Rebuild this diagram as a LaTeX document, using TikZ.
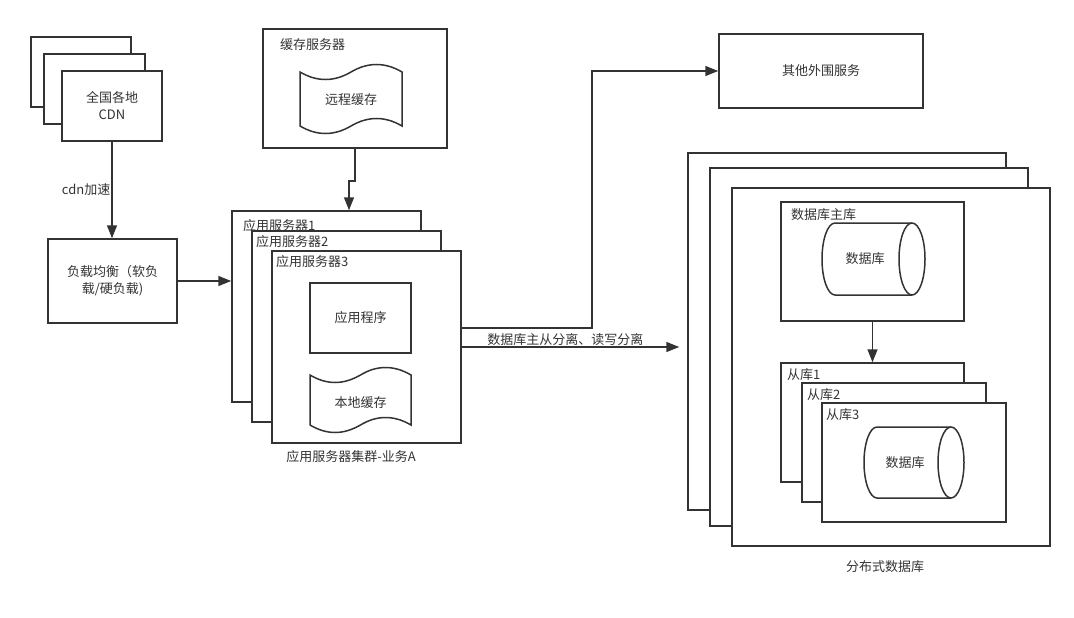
\documentclass[tikz,border=0pt]{standalone}
\usepackage{fontspec}
\setmainfont{Noto Sans CJK SC}
\usetikzlibrary{arrows.meta}
\definecolor{ink}{HTML}{333333}

\begin{document}
\begin{tikzpicture}[x=1pt, y=-1pt, font=\fontsize{13}{17}\selectfont, text=ink,
        ln/.style={draw=ink, line width=1.5pt},
        box/.style={ln, fill=white, inner sep=0pt},
        title/.style={anchor=west, inner sep=0pt},
        arr/.style={ln, -{Triangle[length=13pt, width=10pt]}}]
            \useasboundingbox (0,0) rectangle (1074,618);

            \node[box, minimum width=100, minimum height=70] (cdn1) at (81,72) {};
            \node[box, minimum width=101, minimum height=70] (cdn2) at (94.5,89) {};
            \node[box, minimum width=100, minimum height=70, align=center] (cdn3) at (112,106) {全国各地\\CDN};
            \node[box, minimum width=129, minimum height=84, align=center] (lb) at (112.5,281) {负载均衡（软负\\载/硬负载)};

            \node[box, minimum width=184, minimum height=119] (cache) at (355,88.5) {};
            \node[title] (cachet) at (280,45) {缓存服务器};
            \filldraw[ln, fill=white] (300,72) .. controls (317,82) and (334,82) .. (351,72)
                .. controls (368,62) and (385,62) .. (402,72) -- (402,126)
                .. controls (385,116) and (368,116) .. (351,126)
                .. controls (334,136) and (317,136) .. (300,126) -- cycle;
            \node (rcache) at (351,100) {远程缓存};

            \node[box, minimum width=189, minimum height=191] (app1) at (326.5,306.5) {};
            \node[title] (app1t) at (243,226) {应用服务器1};
            \node[box, minimum width=189, minimum height=191] (app2) at (346.5,326.5) {};
            \node[title] (app2t) at (256,242) {应用服务器2};
            \node[box, minimum width=189, minimum height=192] (app3) at (366.5,347) {};
            \node[title] (app3t) at (276,262) {应用服务器3};
            \node[box, minimum width=101, minimum height=70] (prog) at (360.5,318) {应用程序};
            \filldraw[ln, fill=white] (310,375) .. controls (327,385) and (343,385) .. (360.5,375)
                .. controls (377,365) and (394,365) .. (411,375) -- (411,425)
                .. controls (394,415) and (377,415) .. (360.5,425)
                .. controls (343,435) and (327,435) .. (310,425) -- cycle;
            \node (lcache) at (360.5,403) {本地缓存};
            \node (cluster) at (351,457) {应用服务器集群-业务A};

            \node[box, minimum width=204, minimum height=74] (other) at (821,71) {其他外围服务};

            \node[box, minimum width=318, minimum height=357] (db1) at (847,331.5) {};
            \node[box, minimum width=318, minimum height=358] (db2) at (869,347) {};
            \node[box, minimum width=318, minimum height=358] (db3) at (891,367) {};
            \node[box, minimum width=183, minimum height=119] (master) at (872.5,261.5) {};
            \node[title] (mastert) at (791,215) {数据库主库};
            \filldraw[ln, fill=white] (835,223) arc[start angle=90, end angle=270, x radius=13pt, y radius=36pt]
                -- (912,295) arc[start angle=270, end angle=450, x radius=13pt, y radius=36pt] -- cycle;
            \draw[ln] (912,223) arc[start angle=90, end angle=270, x radius=13pt, y radius=36pt];
            \node (mdb) at (865,259) {数据库};

            \node[box, minimum width=183, minimum height=119] (slave1) at (872.5,422.5) {};
            \node[title] (slave1t) at (787,375) {从库1};
            \node[box, minimum width=184, minimum height=119] (slave2) at (894,442.5) {};
            \node[title] (slave2t) at (807,395) {从库2};
            \node[box, minimum width=184, minimum height=119] (slave3) at (914,462.5) {};
            \node[title] (slave3t) at (826,415) {从库3};
            \filldraw[ln, fill=white] (877,427) arc[start angle=90, end angle=270, x radius=13pt, y radius=35.5pt]
                -- (951,498) arc[start angle=270, end angle=450, x radius=13pt, y radius=35.5pt] -- cycle;
            \draw[ln] (951,427) arc[start angle=90, end angle=270, x radius=13pt, y radius=35.5pt];
            \node (sdb) at (905,463) {数据库};
            \node (dist) at (885,567) {分布式数据库};

            \draw[arr] (cdn3.south) -- node[midway, left, inner sep=1pt] (cdnl) {cdn加速} (cdn3.south |- lb.north);
            \draw[arr] (lb.east) -- (lb.east -| app1.west);
            \draw[arr] (cache.south) -- ++(0,32) -| ([xshift=22.5pt]app1.north);
            \draw[arr] ([yshift=19pt]app3.east) -- ++(130,0) |- (other.west);
            \draw[arr, shorten >=8pt] (app3.east) -- node[pos=0.46, above, inner sep=1pt] (rw) {数据库主从分离、读写分离} (app3.east -| db1.west);
            \draw[arr] (master.south) -- (slave1.north);
        \end{tikzpicture}
\end{document}
